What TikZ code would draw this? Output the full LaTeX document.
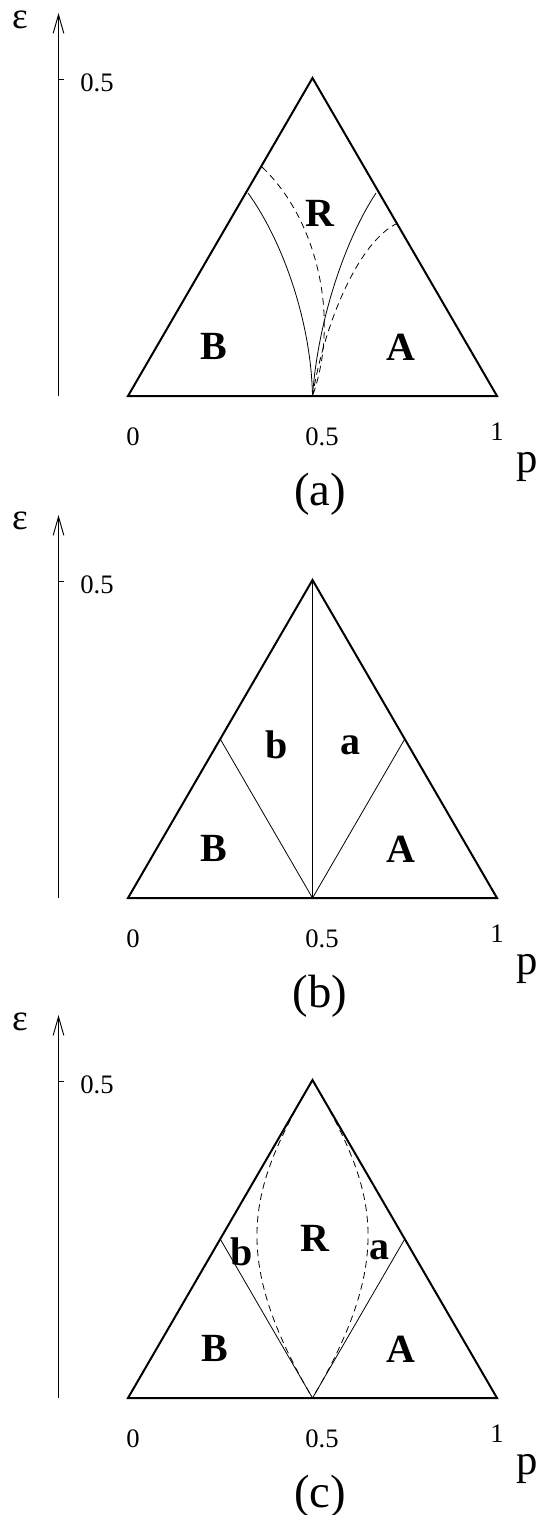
\documentclass[tikz,border=0pt]{standalone}
\usepackage{fontspec}
\setmainfont{Liberation Serif}
\usetikzlibrary{arrows.meta}

\begin{document}
\begin{tikzpicture}[x=0.75pt,y=0.75pt,yscale=-1,xscale=1,
	edgeline/.style={line width=1.5pt, line join=miter},
	bound/.style={line width=0.6pt},
	dashbound/.style={line width=0.6pt, dash pattern=on 5pt off 3.5pt},
	axisline/.style={line width=0.7pt, -{Straight Barb[length=14pt,width=8pt]}},
	ticklab/.style={font=\fontsize{20}{20}\selectfont, inner sep=0pt},
	axlab/.style={font=\fontsize{32}{32}\selectfont, inner sep=0pt},
	epslab/.style={font=\fontsize{28}{28}\selectfont, inner sep=0pt},
	reglab/.style={font=\fontsize{30}{30}\selectfont\bfseries, inner sep=0pt},
	caplab/.style={font=\fontsize{35}{35}\selectfont, inner sep=0pt}]
\useasboundingbox (0,0) rectangle (549,1515);

%%%% Panel (a)
\coordinate (aL) at (128,396);
\coordinate (aR) at (497,396);
\coordinate (aT) at (312.5,78);
\coordinate (aM) at (312.5,396);
%Axis [id:axa]
\draw [axisline] (58.5,396) -- (58.5,13) ;
\draw [line width=0.7pt] (58.5,79) -- (64,79) ;
%Shape: Triangle [id:tria]
\draw [edgeline] (aL) -- (aT) -- (aR) -- cycle ;
%Curve Lines [id:ca1]
\draw [bound] (248,193) .. controls (282,240) and (311,320) .. (aM) ;
%Curve Lines [id:ca2]
\draw [dashbound] (262,167) .. controls (318,220) and (340,320) .. (aM) ;
%Curve Lines [id:ca3]
\draw [bound] (376,193) .. controls (345,240) and (318,320) .. (aM) ;
%Curve Lines [id:ca4]
\draw [dashbound] (398,223) .. controls (360,240) and (325,320) .. (aM) ;
\node [epslab] (aeps) at (20,20) {ε};
\node [ticklab] (ay05) at (97,83) {0.5};
\node [ticklab] (ax0) at (133,437) {0};
\node [ticklab] (ax05) at (322,437) {0.5};
\node [ticklab] (ax1) at (497,432) {1};
\node [axlab] (ap) at (527,467) {p};
\node [caplab] (acap) at (320,494) {(a)};
\node [reglab] (aRr) at (320,213) {R};
\node [reglab] (aBb) at (214,346) {B};
\node [reglab] (aAa) at (401,347) {A};

%%%% Panel (b)
\coordinate (bL) at (128,898);
\coordinate (bR) at (497,898);
\coordinate (bT) at (312.5,580);
\coordinate (bM) at (312.5,898);
\coordinate (bLm) at (220.25,739);
\coordinate (bRm) at (404.75,739);
%Axis [id:axb]
\draw [axisline] (58.5,898) -- (58.5,515) ;
\draw [line width=0.7pt] (58.5,581) -- (64,581) ;
%Shape: Triangle [id:trib]
\draw [edgeline] (bL) -- (bT) -- (bR) -- cycle ;
%Straight Lines [id:lb1]
\draw [bound] (bLm) -- (bM) -- (bRm) ;
%Straight Lines [id:lb2]
\draw [bound] (bT) -- (bM) ;
\node [epslab] (beps) at (20,521) {ε};
\node [ticklab] (by05) at (97,585) {0.5};
\node [ticklab] (bx0) at (133,939) {0};
\node [ticklab] (bx05) at (322,939) {0.5};
\node [ticklab] (bx1) at (497,934) {1};
\node [axlab] (bp) at (527,969) {p};
\node [caplab] (bcap) at (320,996) {(b)};
\node [reglab] (bbb) at (277,745) {b};
\node [reglab] (baa) at (350,745) {a};
\node [reglab] (bBb) at (214,848) {B};
\node [reglab] (bAa) at (401,849) {A};

%%%% Panel (c)
\coordinate (cL) at (128,1398);
\coordinate (cR) at (497,1398);
\coordinate (cT) at (312.5,1080);
\coordinate (cM) at (312.5,1398);
\coordinate (cLm) at (220.25,1239);
\coordinate (cRm) at (404.75,1239);
%Axis [id:axc]
\draw [axisline] (58.5,1398) -- (58.5,1015) ;
\draw [line width=0.7pt] (58.5,1081) -- (64,1081) ;
%Shape: Triangle [id:tric]
\draw [edgeline] (cL) -- (cT) -- (cR) -- cycle ;
%Straight Lines [id:lc1]
\draw [bound] (cLm) -- (cM) -- (cRm) ;
%Curve Lines [id:cc1]
\draw [dashbound] (cT) .. controls (252,1184) and (226,1251.5) .. (cM) ;
%Curve Lines [id:cc2]
\draw [dashbound] (cT) .. controls (373,1184) and (399,1251.5) .. (cM) ;
\node [epslab] (ceps) at (20,1022) {ε};
\node [ticklab] (cy05) at (97,1085) {0.5};
\node [ticklab] (cx0) at (133,1439) {0};
\node [ticklab] (cx05) at (322,1439) {0.5};
\node [ticklab] (cx1) at (497,1434) {1};
\node [axlab] (cp) at (527,1469) {p};
\node [caplab] (ccap) at (320,1496) {(c)};
\node [reglab] (cRr) at (315,1238) {R};
\node [reglab] (cbb) at (242,1252) {b};
\node [reglab] (caa) at (379,1250) {a};
\node [reglab] (cBb) at (215,1348) {B};
\node [reglab] (cAa) at (401,1349) {A};
\end{tikzpicture}
\end{document}
